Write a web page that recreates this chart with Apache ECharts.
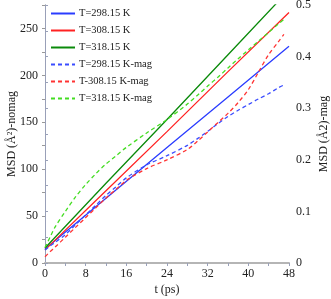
<!DOCTYPE html>
<html><head><meta charset="utf-8">
<script src="https://cdn.jsdelivr.net/npm/echarts@6/dist/echarts.min.js"></script>
<style>html,body{margin:0;padding:0;background:#fff}#c{width:331px;height:299px}</style>
</head><body><div id="c"></div>
<script>
var names = ["T=298.15 K","T=308.15 K","T=318.15 K","T=298.15 K-mag","T-308.15 K-mag","T=318.15 K-mag"];
var tSolid = [0, 12, 24, 36, 48];
var blueSolid = [15, 69, 123, 177, 231];
var redSolid = [14, 77, 140, 204, 267];
var greenSolid = [16, 85, 153, 222, 291];
var tMag = [0, 1, 2, 4, 6, 8, 10, 12, 14, 16, 20, 24, 28, 30, 32, 34, 36, 38, 40, 42, 44, 46, 47];
var blueMag = [0.025, 0.033, 0.04, 0.055, 0.074, 0.093, 0.112, 0.131, 0.148, 0.165, 0.19, 0.208, 0.228, 0.241, 0.255, 0.27, 0.284, 0.296, 0.307, 0.318, 0.328, 0.34, 0.345];
var redMag = [0.012, 0.022, 0.031, 0.05, 0.069, 0.088, 0.107, 0.126, 0.143, 0.16, 0.183, 0.2, 0.22, 0.236, 0.254, 0.272, 0.29, 0.311, 0.336, 0.37, 0.404, 0.43, 0.443];
var greenMag = [0.03, 0.05, 0.07, 0.1, 0.128, 0.152, 0.173, 0.192, 0.208, 0.224, 0.252, 0.278, 0.308, 0.325, 0.343, 0.36, 0.378, 0.396, 0.413, 0.43, 0.447, 0.464, 0.472];
var xTicks = [0, 8, 16, 24, 32, 40, 48];

function pairs(xs, ys){ return xs.map(function(x,i){return [x, ys[i]];}); }
var font = "Liberation Serif";
var chart = echarts.init(document.getElementById('c'), null, {renderer:'canvas'});
function solid(name, xs, ys, color){
  return {name:name, type:'line', yAxisIndex:0, data:pairs(xs,ys), symbol:'none', clip:true,
    lineStyle:{color:color, width:1.3}, itemStyle:{color:color}};
}
function dashed(name, xs, ys, color){
  return {name:name, type:'line', yAxisIndex:1, data:pairs(xs,ys), symbol:'none', smooth:0.3, clip:true,
    lineStyle:{color:color, width:1.3, type:[4,3]}, itemStyle:{color:color}};
}
chart.setOption({
  animation:false,
  grid:{left:45, right:42, top:5, bottom:36, outerBoundsMode:'none', containLabel:false},
  legend:{left:50, top:8, padding:0, orient:'vertical', itemWidth:24, itemHeight:11, itemGap:6,
    itemStyle:{opacity:0},
    textStyle:{fontFamily:font, fontSize:10.5, color:'#222', padding:[0,0,0,-1]}, data:names},
  xAxis:[{type:'value', min:0, max:48, interval:4,
    name:'t (ps)', nameLocation:'middle', nameGap:21, nameMoveOverlap:false,
    nameTextStyle:{fontFamily:font, fontSize:12, color:'#222'},
    axisLine:{lineStyle:{color:'#99a0b8', width:1}},
    axisTick:{length:3, lineStyle:{color:'#99a0b8'}},
    splitLine:{show:false},
    axisLabel:{fontFamily:font, fontSize:12, color:'#222', margin:5,
      formatter:function(v){ return xTicks.indexOf(v) >= 0 ? String(v) : ''; }}},
    {type:'value', position:'top', min:0, max:48, axisLine:{lineStyle:{color:'#b5b5b5', width:2}},
      axisTick:{show:false}, axisLabel:{show:false}, splitLine:{show:false}}],
  yAxis:[{type:'value', min:0, max:275, interval:25,
    name:'MSD (Å²)-nomag', nameLocation:'middle', nameGap:27, nameRotate:90, nameMoveOverlap:false,
    nameTextStyle:{fontFamily:font, fontSize:12, color:'#222'},
    axisLine:{show:true, lineStyle:{color:'#999', width:1}},
    axisTick:{length:3, lineStyle:{color:'#999'}},
    splitLine:{show:false},
    axisLabel:{fontFamily:font, fontSize:12, color:'#222', margin:7,
      formatter:function(v){ return (v % 50 === 0) ? String(v) : ''; }}},
    {type:'value', min:0, max:0.5, interval:0.05, position:'right',
    name:'MSD (Å2)-mag', nameLocation:'middle', nameGap:29, nameRotate:90, nameMoveOverlap:false,
    nameTextStyle:{fontFamily:font, fontSize:12, color:'#222'},
    axisLine:{show:true, lineStyle:{color:'#99a0b8', width:1}},
    axisTick:{length:3, lineStyle:{color:'#99a0b8'}},
    splitLine:{show:false},
    axisLabel:{fontFamily:font, fontSize:12, color:'#222', margin:7,
      formatter:function(v){ var k = Math.round(v*100); return (k % 10 === 0) ? String(k/100) : ''; }}}],
  series:[
    solid(names[0], tSolid, blueSolid, '#2a3cff'),
    solid(names[1], tSolid, redSolid, '#ff2222'),
    solid(names[2], tSolid, greenSolid, '#0a8a0a'),
    dashed(names[3], tMag, blueMag, '#3a4cff'),
    dashed(names[4], tMag, redMag, '#ff3333'),
    dashed(names[5], tMag, greenMag, '#44dd22')
  ]
});
</script></body></html>
